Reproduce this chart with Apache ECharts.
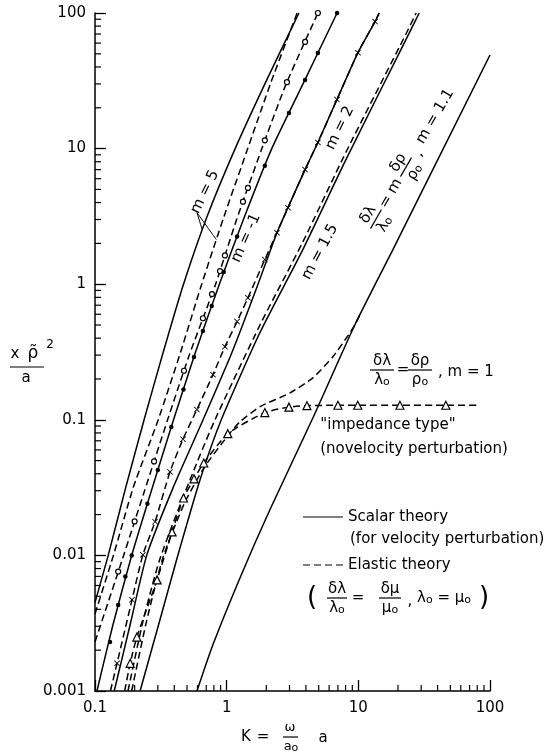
<!DOCTYPE html>
<html>
<head>
<meta charset="utf-8">
<title>Scattering strength versus K</title>
<script src="https://cdn.jsdelivr.net/npm/echarts@6.0.0/dist/echarts.min.js"></script>
<style>
  html, body { margin: 0; padding: 0; background: #fff; }
  #chart { width: 552px; height: 754px; }
</style>
</head>
<body>
<div id="chart"></div>
<script>
// ---------- axis ticks ----------
const xTickLabels = ['0.1', '1', '10', '100'];
const yTickLabels = ['0.001', '0.01', '0.1', '1', '10', '100'];
const xMinorTicks = [0.2, 0.3, 0.4, 0.5, 0.6, 0.7, 0.8, 0.9, 2, 3, 4, 5, 6, 7, 8, 9, 20, 30, 40, 50, 60, 70, 80, 90];
const yMinorTicks = [0.002, 0.003, 0.004, 0.005, 0.006, 0.007, 0.008, 0.009,
  0.02, 0.03, 0.04, 0.05, 0.06, 0.07, 0.08, 0.09,
  0.2, 0.3, 0.4, 0.5, 0.6, 0.7, 0.8, 0.9,
  2, 3, 4, 5, 6, 7, 8, 9,
  20, 30, 40, 50, 60, 70, 80, 90];

// ---------- m = 5 ----------
const m5ScalarK = [0.1, 0.126, 0.171, 0.236, 0.33, 0.47, 0.71, 1.16, 2.0, 3.54];
const m5ScalarY = [0.0045, 0.01, 0.0316, 0.1, 0.316, 1, 3.16, 10, 31.6, 100];
const m5ElasticK = [0.1, 0.138, 0.195, 0.302, 0.447, 0.646, 0.955, 1.445, 2.19, 3.43];
const m5ElasticY = [0.0037, 0.01, 0.0316, 0.1, 0.316, 1, 3.16, 10, 31.6, 100];
const m5PointerK = [0.652, 0.595, 0.836];
const m5PointerY = [2.52, 3.37, 2.13];

// ---------- m = -1 ----------
const mNeg1ElasticK = [0.1, 0.165, 0.238, 0.356, 0.52, 0.824, 1.19, 1.85, 2.83, 4.93];
const mNeg1ElasticY = [0.0023, 0.01, 0.03, 0.1, 0.3, 1, 3, 10, 30, 100];
const mNeg1ElasticPtsK = [0.15, 0.2, 0.281, 0.474, 0.66, 0.773, 0.89, 0.97, 1.33, 1.45, 1.95, 2.87, 3.94, 4.93];
const mNeg1ElasticPtsY = [0.0076, 0.0178, 0.0493, 0.23, 0.561, 0.845, 1.25, 1.63, 4.06, 5.13, 11.5, 30.9, 61.2, 100];
const mNeg1ScalarK = [0.1035, 0.136, 0.19, 0.268, 0.395, 0.57, 0.88, 1.34, 2.2, 3.8, 6.9];
const mNeg1ScalarY = [0.001, 0.003, 0.01, 0.03, 0.1, 0.3, 1, 3, 10, 30, 100];
const mNeg1ScalarPtsK = [0.13, 0.15, 0.17, 0.19, 0.25, 0.3, 0.38, 0.47, 0.565, 0.66, 0.77, 0.95, 1.2, 1.95, 2.97, 3.94, 4.93, 6.9];
const mNeg1ScalarPtsY = [0.0023, 0.0043, 0.007, 0.01, 0.024, 0.0426, 0.0885, 0.167, 0.29, 0.452, 0.69, 1.23, 2.25, 7.46, 18.3, 32, 50.7, 100];

// ---------- m = 2 ----------
const m2ElasticK = [0.131, 0.147, 0.191, 0.231, 0.286, 0.371, 0.466, 0.594, 0.787, 0.97, 1.2, 1.45, 1.95, 2.41, 2.92, 3.94, 4.93, 6.88, 9.93, 13.4, 14.4];
const m2ElasticY = [0.001, 0.0016, 0.0047, 0.0101, 0.0177, 0.0413, 0.072, 0.119, 0.215, 0.346, 0.53, 0.794, 1.52, 2.4, 3.67, 7.0, 11.1, 23, 51, 86.5, 100];
const m2ElasticPtsK = [0.147, 0.191, 0.231, 0.286, 0.371, 0.466, 0.594, 0.787, 0.97, 1.2, 1.45, 1.95, 2.41, 2.92, 3.94, 4.93, 6.88, 9.93, 13.4];
const m2ElasticPtsY = [0.0016, 0.0047, 0.0101, 0.0177, 0.0413, 0.072, 0.119, 0.215, 0.346, 0.53, 0.794, 1.52, 2.4, 3.67, 7.0, 11.1, 23, 51, 86.5];
const m2ScalarK = [0.14, 0.186, 0.247, 0.392, 0.662, 1.1, 1.73, 2.41, 2.92, 3.94, 4.93, 6.88, 9.93, 13.4, 14.4];
const m2ScalarY = [0.001, 0.00316, 0.01, 0.0316, 0.1, 0.316, 1, 2.4, 3.67, 7.0, 11.1, 23, 51, 86.5, 100];

// ---------- m = 1.5 ----------
const m15ScalarK = [0.22, 0.31, 0.427, 0.627, 0.91, 1.79, 3.79, 8.05, 23, 29];
const m15ScalarY = [0.001, 0.0033, 0.0101, 0.036, 0.1, 0.44, 1.8, 8.3, 63.7, 100];
const m15ElasticK = [0.178, 0.232, 0.312, 0.526, 0.815, 1.79, 3.79, 8.05, 23, 27.5];
const m15ElasticY = [0.001, 0.0033, 0.0095, 0.036, 0.1, 0.5, 2.05, 9.4, 70, 100];

// ---------- m = 1.1 ----------
const m11ScalarK = [0.595, 0.787, 1.3, 2.13, 4.45, 9.4, 18.3, 100];
const m11ScalarY = [0.001, 0.0022, 0.0073, 0.0217, 0.1, 0.5, 1.8, 49];
const m11ElasticK = [0.19, 0.245, 0.33, 0.48, 0.68, 1.02, 1.26, 1.79, 3.03, 4.52, 6.41, 8.63, 9.42, 10.5];
const m11ElasticY = [0.001, 0.0032, 0.0098, 0.0245, 0.045, 0.0762, 0.0966, 0.125, 0.158, 0.204, 0.292, 0.438, 0.502, 0.62];

// ---------- m = 1, impedance type ----------
const m1ElasticK = [0.168, 0.185, 0.208, 0.296, 0.385, 0.47, 0.565, 0.67, 1.02, 1.95, 2.97, 4.07, 7.0, 9.9, 20.7, 46.2, 79];
const m1ElasticY = [0.001, 0.0016, 0.0025, 0.0066, 0.0149, 0.0265, 0.0367, 0.048, 0.079, 0.113, 0.124, 0.127, 0.128, 0.128, 0.128, 0.128, 0.128];
const m1ElasticPtsK = [0.185, 0.208, 0.296, 0.385, 0.47, 0.565, 0.67, 1.02, 1.95, 2.97, 4.07, 7.0, 9.9, 20.7, 46.2];
const m1ElasticPtsY = [0.0016, 0.0025, 0.0066, 0.0149, 0.0265, 0.0367, 0.048, 0.079, 0.113, 0.124, 0.127, 0.128, 0.128, 0.128, 0.128];

// ---------- helpers ----------
const FONT = '"DejaVu Sans", sans-serif';
const INK = '#000';
const LINE_W = 1.5;
const DASH = [7, 4];
const deg = d => d * Math.PI / 180;
const zip = (ks, ys) => ks.map((k, i) => [k, ys[i]]);

function curve(name, ks, ys, dashed, width) {
  return {
    name, type: 'line', data: zip(ks, ys), symbol: 'none', showSymbol: false,
    smooth: 0.2, silent: true, z: 3, clip: false,
    lineStyle: { color: INK, width: width || LINE_W, type: dashed ? DASH : 'solid' }
  };
}
function marks(name, ks, ys, symbol, size, filled) {
  return {
    name, type: 'scatter', data: zip(ks, ys), symbol, symbolSize: size, silent: true, z: 4,
    itemStyle: { color: filled ? INK : '#fff', borderColor: INK, borderWidth: filled ? 0 : 1.2, opacity: 1 }
  };
}
const CROSS = 'path://M1,0L5,4L9,0L10,1L6,5L10,9L9,10L5,6L1,10L0,9L4,5L0,1Z';

function minorTicks(values, dir) {
  return {
    type: 'custom', silent: true, z: 6, clip: false,
    data: values.map(v => dir === 'x' ? [v, 0.001] : [0.1, v]),
    renderItem: (params, api) => {
      const p = api.coord([api.value(0), api.value(1)]);
      const len = 6;
      const shape = dir === 'x'
        ? { x1: p[0], y1: p[1], x2: p[0], y2: p[1] - len }
        : { x1: p[0], y1: p[1], x2: p[0] + len, y2: p[1] };
      return { type: 'line', shape, style: { stroke: INK, lineWidth: 1.2 } };
    }
  };
}

// text pieces for the annotations
const RICH = { o: { fontFamily: FONT, fontSize: 11, verticalAlign: 'bottom', fill: INK } };
function t(text, x, y, opts) {
  opts = opts || {};
  const align = opts.align || 'center';
  return {
    type: 'text', x, y, rotation: opts.rot || 0, silent: true, z: 10,
    style: {
      text, fontFamily: FONT, fontSize: opts.size || 15, fill: INK,
      align, textAlign: align, verticalAlign: 'middle', textVerticalAlign: 'middle', rich: RICH
    }
  };
}
function hline(x1, x2, y, dash) {
  return {
    type: 'line', silent: true, z: 10, shape: { x1, y1: y, x2, y2: y },
    style: { stroke: INK, lineWidth: 1.2, lineDash: dash || null }
  };
}
function frac(num, den, cx, cy, w) {
  return [t(num, cx, cy - 9), hline(cx - w / 2, cx + w / 2, cy), t(den, cx, cy + 10)];
}

const graphics = [
  // y axis title
  t('x', 15, 354, { size: 15 }),
  t('\u03C1\u0303', 33, 354, { size: 17 }),
  t('2', 50, 345, { size: 12 }),
  hline(10, 44, 367),
  t('a', 26, 378),
  // x axis title
  t('K', 246, 737),
  t('=', 263, 737),
  t('\u03C9', 290, 728, { size: 13 }),
  hline(283, 298, 737),
  t('a{o|o}', 291, 747, { size: 13 }),
  t('a', 323, 738),
  // curve labels
  t('m = 5', 205, 192, { rot: deg(64) }),
  t('m = -1', 246, 238, { rot: deg(66) }),
  t('m = 2', 340, 128, { rot: deg(64) }),
  t('m = 1.5', 320, 252, { rot: deg(62) }),
  {
    type: 'group', x: 372, y: 226, rotation: deg(60), silent: true,
    children: [].concat(
      frac('\u03B4\u03BB', '\u03BB{o|o}', 8, 0, 22),
      [t('=', 28, 0), t('m', 46, 0)],
      frac('\u03B4\u03C1', '\u03C1{o|o}', 68, 0, 22),
      [t(',', 86, 4), t('m = 1.1', 96, 0, { align: 'left' })]
    )
  },
  // impedance-type annotation
  ...frac('\u03B4\u03BB', '\u03BB{o|o}', 382, 370, 24),
  t('=', 403, 370),
  ...frac('\u03B4\u03C1', '\u03C1{o|o}', 420, 370, 24),
  t(', m = 1', 438, 372, { align: 'left' }),
  t('"impedance type"', 388, 425),
  t('(novelocity perturbation)', 414, 449),
  // key
  hline(303, 343, 517),
  t('Scalar theory', 348, 517, { align: 'left' }),
  t('(for velocity perturbation)', 350, 539, { align: 'left' }),
  hline(303, 345, 565, DASH),
  t('Elastic theory', 348, 565, { align: 'left' }),
  t('(', 312, 598, { size: 26 }),
  ...frac('\u03B4\u03BB', '\u03BB{o|o}', 337, 598, 20),
  t('=', 358, 598),
  ...frac('\u03B4\u03BC', '\u03BC{o|o}', 390, 598, 22),
  t(',', 410, 601),
  t('\u03BB{o|o} = \u03BC{o|o}', 417, 598, { align: 'left' }),
  t(')', 484, 598, { size: 26 })
];

const chart = echarts.init(document.getElementById('chart'), null, { renderer: 'canvas' });
chart.setOption({
  animation: false,
  backgroundColor: '#fff',
  grid: { left: 95, right: 62, top: 13, bottom: 63 },
  xAxis: {
    type: 'log', logBase: 10, min: 0.1, max: 100,
    axisLine: { show: true, onZero: false, lineStyle: { color: INK, width: 1.5 } },
    axisTick: { show: true, inside: true, length: 11, lineStyle: { color: INK, width: 1.3 } },
    axisLabel: {
      show: true, color: INK, fontFamily: FONT, fontSize: 15, margin: 10,
      showMinLabel: true, showMaxLabel: true,
      formatter: v => xTickLabels[Math.round(Math.log10(v)) + 1]
    },
    splitLine: { show: false }, minorTick: { show: false }, minorSplitLine: { show: false }
  },
  yAxis: {
    type: 'log', logBase: 10, min: 0.001, max: 100,
    axisLine: { show: true, onZero: false, lineStyle: { color: INK, width: 1.5 } },
    axisTick: { show: true, inside: true, length: 11, lineStyle: { color: INK, width: 1.3 } },
    axisLabel: {
      show: true, color: INK, fontFamily: FONT, fontSize: 15, margin: 9,
      showMinLabel: true, showMaxLabel: true,
      formatter: v => yTickLabels[Math.round(Math.log10(v)) + 3]
    },
    splitLine: { show: false }, minorTick: { show: false }, minorSplitLine: { show: false }
  },
  series: [
    minorTicks(xMinorTicks, 'x'),
    minorTicks(yMinorTicks, 'y'),
    curve('m=5 scalar', m5ScalarK, m5ScalarY, false),
    curve('m=5 elastic', m5ElasticK, m5ElasticY, true),
    curve('m=5 pointer', m5PointerK, m5PointerY, false, 1),
    curve('m=-1 elastic', mNeg1ElasticK, mNeg1ElasticY, true),
    curve('m=-1 scalar', mNeg1ScalarK, mNeg1ScalarY, false),
    curve('m=2 elastic', m2ElasticK, m2ElasticY, true),
    curve('m=2 scalar', m2ScalarK, m2ScalarY, false),
    curve('m=1.5 scalar', m15ScalarK, m15ScalarY, false),
    curve('m=1.5 elastic', m15ElasticK, m15ElasticY, true),
    curve('m=1.1 scalar', m11ScalarK, m11ScalarY, false),
    curve('m=1.1 elastic', m11ElasticK, m11ElasticY, true),
    curve('m=1 elastic', m1ElasticK, m1ElasticY, true),
    marks('m=-1 elastic pts', mNeg1ElasticPtsK, mNeg1ElasticPtsY, 'circle', 5, false),
    marks('m=-1 scalar pts', mNeg1ScalarPtsK, mNeg1ScalarPtsY, 'circle', 4.5, true),
    marks('m=2 elastic pts', m2ElasticPtsK, m2ElasticPtsY, CROSS, 6, true),
    marks('m=1 elastic pts', m1ElasticPtsK, m1ElasticPtsY, 'triangle', 8, false)
  ],
  graphic: graphics
});
</script>
</body>
</html>
